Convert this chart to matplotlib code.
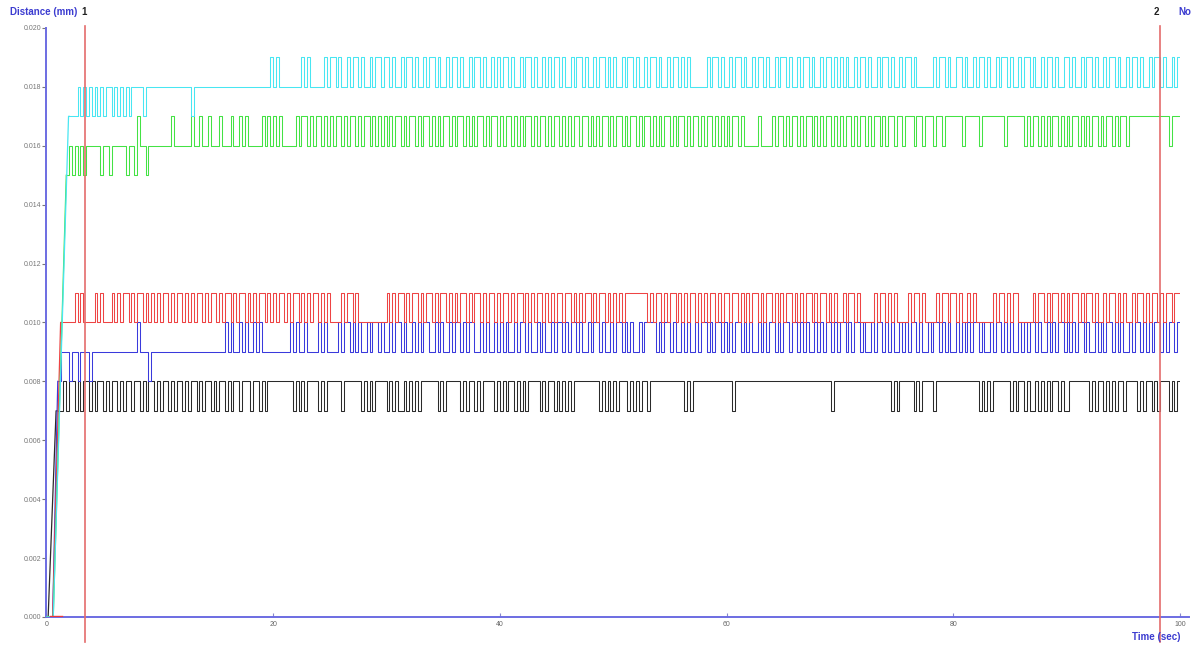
import matplotlib
matplotlib.use("Agg")
import matplotlib.pyplot as plt

plt.rcParams['font.family'] = ['Liberation Sans', 'DejaVu Sans']

# Distance traces (mm), sampled every 0.25 s.  One string per 10 s window.
# '0' = base level, '1' = base + 0.001, '-' = base - 0.001, '.' = start-up ramp.
STEP = {'0': 0.0, '1': 0.001, '-': -0.001}

black_base = 0.007
black_ramp_t = [0.0, 0.15, 0.85, 1.0]
black_ramp_v = [0.0, 0.0, 0.007, 0.007]
black_trace = [
    "....001011010110101101011010110110101101",
    "0110101101011010110101101011011101101011",
    "1111111010101111010111110111111010101111",
    "0101001010101111110101111101011010111101",
    "0101101010111101011010101011111111101010",
    "1011101010110111111111111010111111111111",
    "1101111111111111111111111111111111111011",
    "1111111111111111110101111101011110111111",
    "1111111110101011111101011010010101011010",
    "0111111101011010101101111010110101110101",
]

blue_base = 0.009
blue_ramp_t = [0.0, 0.55, 1.0]
blue_ramp_v = [0.0, 0.0, 0.008]
blue_trace = [
    "....-000-00-000-00000000000000001000-000",
    "0000000000000000000000010100101001010000",
    "0000001010010000101000010110101001011010",
    "0101101001010110010100101101011001010010",
    "1010010110100101001011010110100101101001",
    "0110101001011110101101001010010110101101",
    "0101101010010101101011011010100101011010",
    "1101011010010110101001010110100101101010",
    "0101010110100101101010010101101001010110",
    "1010110100101011010100101101010110101101",
]

red_base = 0.010
red_ramp_t = [0.0, 0.55, 1.25]
red_ramp_v = [0.0, 0.0, 0.010]
red_trace = [
    ".....00000101000010100010101101011010101",
    "0110101101010110101101011010110101011010",
    "1011010110101011010100001011010000000000",
    "1010110101101011010110101011010110101101",
    "0110101101010110101011011010101101011010",
    "1010111111110101101011010101101010110101",
    "1011010101101011010101101010110101101010",
    "0101101000001011010100001011010000101101",
    "1010010100000010110101100000101101011010",
    "1011010110100101101010010110101101011011",
]

green_base = 0.016
green_ramp_t = [0.0, 0.6, 1.75]
green_ramp_v = [0.0, 0.0, 0.015]
green_trace = [
    ".......-0-0-0-00000-00-00000-00-100-0000",
    "0000100000010010010001000100101000001010",
    "1010000010110101101010110101101011010101",
    "0101101011010110101011010110101011010110",
    "1011010101101011010110101011011010101101",
    "0110101101011010101101011010110101101010",
    "1011010000010000101101011010110101011010",
    "1011010110101101011011011101101110110111",
    "1110111110111111110111111010110101011010",
    "1011010101101011010110111111111111110111",
]

cyan_base = 0.018
cyan_ramp_t = [0.0, 0.6, 1.95, 2.0]
cyan_ramp_v = [0.0, 0.0, 0.017, 0.017]
cyan_trace = [
    "........---0-0-0-0-0-00-0-0-0-0000-00000",
    "00000000000-0000000000000000000000000001",
    "0100000000101000001011010010110100101101",
    "1010010110100101101001011010010110100101",
    "0110100101101001010110100101101001011010",
    "1001011010010110100101101010000001011010",
    "0101101001011010010110100101101001011010",
    "1010010110100101101001011010000001011010",
    "0110100101101001011010010110100101101001",
    "1010010110100101101001011010010110100101",
]

series = [
    ("#2a2a2a", black_base, black_ramp_t, black_ramp_v, black_trace),
    ("#3a3adc", blue_base, blue_ramp_t, blue_ramp_v, blue_trace),
    ("#ee4444", red_base, red_ramp_t, red_ramp_v, red_trace),
    ("#44e244", green_base, green_ramp_t, green_ramp_v, green_trace),
    ("#48e6f2", cyan_base, cyan_ramp_t, cyan_ramp_v, cyan_trace),
]

cursor_times = [3.4, 98.2]
cursor_labels = ["1", "2"]
y_ticks = [0.000, 0.002, 0.004, 0.006, 0.008, 0.010, 0.012, 0.014, 0.016, 0.018, 0.020]
x_ticks = [0, 20, 40, 60, 80, 100]


def decode(lines, base):
    t, v = [], []
    for k, line in enumerate(lines):
        n = len(line)
        for j, ch in enumerate(line):
            if ch not in STEP:
                continue
            t.append(10.0 * k + 10.0 * j / n)
            v.append(base + STEP[ch])
    t.append(100.0)
    v.append(v[-1])
    return t, v


fig = plt.figure(figsize=(11.97, 6.46), dpi=100)
ax = fig.add_axes([0.0388, 0.0449, 0.9470, 0.9118])
ax.set_xlim(0, 100)
ax.set_ylim(0, 0.020)

for color, base, rt, rv, lines in series:
    t, v = decode(lines, base)
    ax.plot(rt, rv, color=color, lw=0.9, zorder=3)
    ax.plot(t, v, color=color, lw=0.75, drawstyle="steps-post", zorder=3)

# small force trace resting on the time axis
ax.plot([0.3, 1.4], [0.00004, 0.00004], color="#ec3a3a", lw=1.0, zorder=4)

# cursors
for ct in cursor_times:
    ax.plot([ct, ct], [-0.00085, 0.02008], color="#e46c6c", lw=1.2,
            clip_on=False, zorder=5)

axis_blue = "#6c6ce2"
for side in ("top", "right"):
    ax.spines[side].set_visible(False)
ax.spines["left"].set_color(axis_blue)
ax.spines["left"].set_linewidth(1.4)
ax.spines["bottom"].set_color(axis_blue)
ax.spines["bottom"].set_linewidth(1.4)
ax.spines["bottom"].set_bounds(0, 100.8)

ax.set_yticks(y_ticks)
ax.set_yticklabels([f"{y:.3f}" for y in y_ticks])
ax.set_xticks(x_ticks)
ax.set_xticklabels([str(x) for x in x_ticks])
ax.tick_params(axis="y", direction="out", length=3, width=0.8, colors="#777777",
               labelsize=5, pad=1)
ax.tick_params(axis="x", direction="in", length=3, width=0.8, colors="#8888cc",
               labelcolor="#666666", labelsize=5, pad=3)

title_blue = "#3c3cd0"
fig.text(10 / 1197, 1 - 12 / 646, "Distance (mm)", color=title_blue,
         fontsize=7, fontweight="bold", ha="left", va="center")
fig.text(84.5 / 1197, 1 - 12 / 646, cursor_labels[0], color="#222222",
         fontsize=7, fontweight="bold", ha="center", va="center")
fig.text(1156 / 1197, 1 - 12 / 646, cursor_labels[1], color="#222222",
         fontsize=7, fontweight="bold", ha="center", va="center")
fig.text(1178 / 1197, 1 - 12 / 646, "No", color=title_blue,
         fontsize=7, fontweight="bold", ha="left", va="center")
fig.text(1132 / 1197, 1 - 637 / 646, "Time (sec)", color=title_blue,
         fontsize=7, fontweight="bold", ha="left", va="center")

fig.savefig("out.png", dpi=100, facecolor="white")
